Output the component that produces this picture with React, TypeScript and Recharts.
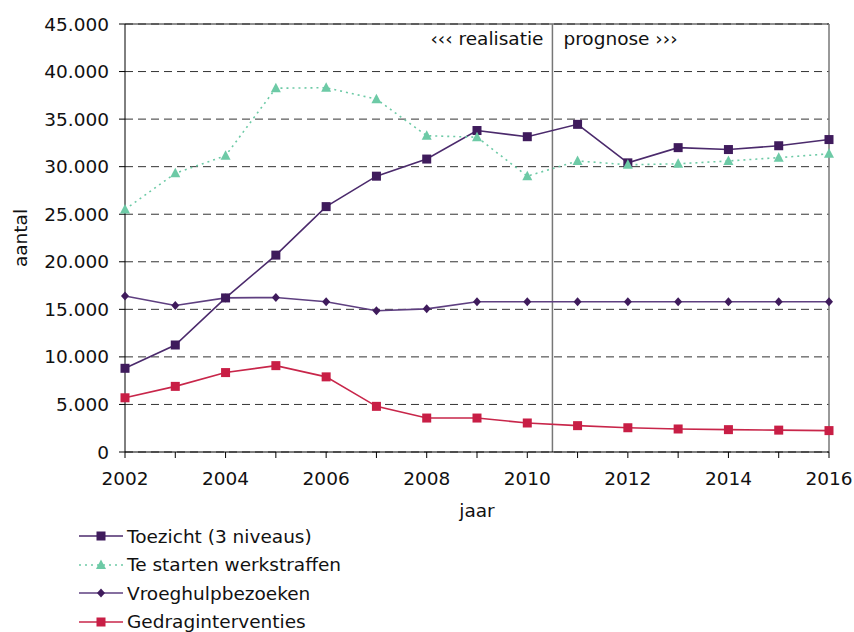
import React from 'react';
import {
  LineChart,
  Line,
  XAxis,
  YAxis,
  CartesianGrid,
  ReferenceLine,
  Legend
} from 'recharts';

const years = [2002, 2003, 2004, 2005, 2006, 2007, 2008, 2009, 2010, 2011, 2012, 2013, 2014, 2015, 2016];
const toezicht = [8800, 11250, 16200, 20700, 25800, 29000, 30800, 33800, 33150, 34450, 30400, 32000, 31800, 32200, 32850];
const werkstraffen = [25500, 29300, 31150, 38250, 38300, 37100, 33250, 33100, 29000, 30600, 30200, 30300, 30600, 30950, 31350];
const vroeghulp = [16400, 15400, 16200, 16250, 15800, 14850, 15050, 15800, 15800, 15800, 15800, 15800, 15800, 15800, 15800];
const gedrag = [5700, 6900, 8350, 9080, 7900, 4800, 3570, 3570, 3050, 2770, 2550, 2420, 2350, 2300, 2250];

const yTicks = [0, 5000, 10000, 15000, 20000, 25000, 30000, 35000, 40000, 45000];
const xTicks = years;
const splitYear = 2010.5;

const data = years.map((jaar, i) => ({
  jaar,
  toezicht: toezicht[i],
  werkstraffen: werkstraffen[i],
  vroeghulp: vroeghulp[i],
  gedrag: gedrag[i]
}));

type Shape = 'square' | 'triangle' | 'diamond';

const series: { key: string; name: string; stroke: string; fill: string; shape: Shape; dash?: string }[] = [
  { key: 'toezicht', name: 'Toezicht (3 niveaus)', stroke: '#4b2a6c', fill: '#3f1b5c', shape: 'square' },
  { key: 'werkstraffen', name: 'Te starten werkstraffen', stroke: '#6dcaa6', fill: '#6dcaa6', shape: 'triangle', dash: '2 4' },
  { key: 'vroeghulp', name: 'Vroeghulpbezoeken', stroke: '#5e3f80', fill: '#3f1b5c', shape: 'diamond' },
  { key: 'gedrag', name: 'Gedraginterventies', stroke: '#c8264a', fill: '#c81e45', shape: 'square' }
];

const FONT = '"DejaVu Sans", Verdana, sans-serif';
const FS = 18.5;

const fmt = (v: number) => String(v).replace(/\B(?=(\d{3})+(?!\d))/g, '.');

function marker(shape: Shape, cx: number, cy: number, fill: string, key?: string) {
  if (shape === 'square') {
    return <rect key={key} x={cx - 4.5} y={cy - 4.5} width={9} height={9} fill={fill} />;
  }
  if (shape === 'triangle') {
    return <polygon key={key} points={`${cx},${cy - 5.5} ${cx + 5},${cy + 4} ${cx - 5},${cy + 4}`} fill={fill} />;
  }
  return <polygon key={key} points={`${cx},${cy - 4.5} ${cx + 4},${cy} ${cx},${cy + 4.5} ${cx - 4},${cy}`} fill={fill} />;
}

const makeDot = (shape: Shape, fill: string) => (props: any) =>
  marker(shape, props.cx, props.cy, fill, `${shape}-${props.index}`);

function LegendBox() {
  return (
    <div style={{ fontFamily: FONT, fontSize: FS, color: '#111' }}>
      {series.map(s => (
        <div key={s.key} style={{ display: 'flex', alignItems: 'center', height: 28.5 }}>
          <svg width={46} height={14} style={{ marginRight: 2 }}>
            <line x1={0} y1={7} x2={44} y2={7} stroke={s.stroke} strokeWidth={1.6} strokeDasharray={s.dash} />
            {marker(s.shape, 22, 7, s.fill)}
          </svg>
          <span>{s.name}</span>
        </div>
      ))}
    </div>
  );
}

export default function App() {
  return (
    <div style={{ position: 'absolute', left: 0, top: 0, background: '#fff' }}>
      <LineChart
        width={854}
        height={632}
        data={data}
        margin={{ top: 24, right: 25, left: 0, bottom: 110 }}
        style={{ fontFamily: FONT }}
      >
        <CartesianGrid horizontal vertical={false} stroke="#333" strokeDasharray="8 5" strokeWidth={1} />
        <XAxis
          dataKey="jaar"
          type="number"
          domain={[2002, 2016]}
          ticks={xTicks}
          interval={0}
          tickFormatter={(v: number) => (v % 2 === 0 ? String(v) : '')}
          tickSize={6}
          tickMargin={14}
          height={70}
          stroke="#000"
          tick={{ fill: '#111', fontSize: FS }}
          label={(props: any) => {
            const vb = props.viewBox;
            return (
              <text x={vb.x + vb.width / 2} y={vb.y + 65} textAnchor="middle" fill="#111" fontSize={FS}>
                jaar
              </text>
            );
          }}
        />
        <YAxis
          type="number"
          domain={[0, 45000]}
          ticks={yTicks}
          interval={0}
          tickFormatter={fmt}
          tickSize={6}
          tickMargin={10}
          width={125}
          stroke="#000"
          tick={{ fill: '#111', fontSize: FS }}
          label={(props: any) => {
            const vb = props.viewBox;
            const cy = vb.y + vb.height / 2;
            return (
              <text x={27} y={cy} transform={`rotate(-90 27 ${cy})`} textAnchor="middle" fill="#111" fontSize={FS}>
                aantal
              </text>
            );
          }}
        />
        <ReferenceLine y={45000} stroke="#222" strokeWidth={1} />
        <ReferenceLine x={2016} stroke="#777" strokeWidth={1.5} />
        <ReferenceLine
          x={splitYear}
          stroke="#777"
          strokeWidth={1.5}
          label={(props: any) => {
            const vb = props.viewBox;
            return (
              <g fontSize={FS} fill="#111">
                <text x={vb.x - 9} y={vb.y + 21} textAnchor="end">‹‹‹ realisatie</text>
                <text x={vb.x + 11} y={vb.y + 21} textAnchor="start">prognose ›››</text>
              </g>
            );
          }}
        />
        {series.map(s => (
          <Line
            key={s.key}
            dataKey={s.key}
            name={s.name}
            type="linear"
            stroke={s.stroke}
            strokeWidth={1.6}
            strokeDasharray={s.dash}
            dot={makeDot(s.shape, s.fill)}
            activeDot={false}
            isAnimationActive={false}
          />
        ))}
        <Legend
          layout="horizontal"
          align="center"
          verticalAlign="middle"
          wrapperStyle={{ left: 79, top: 522, width: 400 }}
          content={() => <LegendBox />}
        />
      </LineChart>
      <style>{'body{margin:0}'}</style>
    </div>
  );
}
